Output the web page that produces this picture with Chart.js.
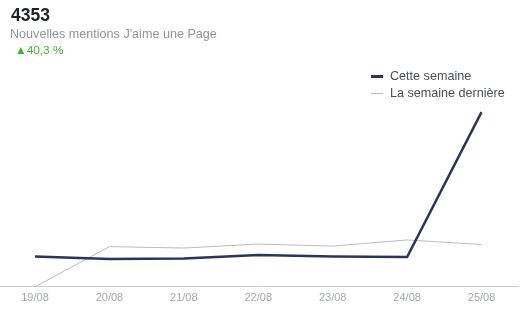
<!DOCTYPE html>
<html>
<head>
<meta charset="utf-8">
<script src="https://cdn.jsdelivr.net/npm/chart.js@4"></script>
<style>
  html, body { margin: 0; padding: 0; background: #fff; }
  body { width: 522px; height: 325px; position: relative; overflow: hidden; font-family: "Liberation Sans", Arial, sans-serif; }
  #wrap { position: absolute; left: 0; top: 0; width: 522px; height: 325px; }
  .total { position: absolute; left: 11px; top: 5px; font-size: 17.5px; font-weight: bold; color: #1d2129; }
  .subtitle { position: absolute; left: 10px; top: 27px; font-size: 12.6px; color: #90949c; }
  .change { position: absolute; left: 15px; top: 43px; font-size: 11.8px; color: #42b72a; }
  .legend { position: absolute; left: 371px; top: 68px; font-size: 12.6px; color: #4b4f56; }
  .legend div { height: 17px; line-height: 17px; white-space: nowrap; }
  .legend span { display: inline-block; width: 12px; vertical-align: middle; margin-right: 7px; }
</style>
</head>
<body>
<div id="wrap"><canvas id="likesChart" width="522" height="325"></canvas></div>
<div class="total">4353</div>
<div class="subtitle">Nouvelles mentions J'aime une Page</div>
<div class="change">&#9650;40,3 %</div>
<div class="legend">
  <div><span style="border-top: 3px solid #29355a;"></span>Cette semaine</div>
  <div><span style="border-top: 1px solid #b8bcc4;"></span>La semaine dernière</div>
</div>
<script>
const days = ['19/08', '20/08', '21/08', '22/08', '23/08', '24/08', '25/08'];
const thisWeek = [374, 342, 349, 392, 374, 367, 2155];
const lastWeek = [0, 496, 478, 527, 502, 578, 522];

const toPoints = arr => arr.map((v, i) => ({ x: i, y: v }));

new Chart(document.getElementById('likesChart'), {
    type: 'line',
    data: {
        datasets: [
            {
                label: 'Cette semaine',
                data: toPoints(thisWeek),
                borderColor: '#29355a',
                borderWidth: 2.5,
                pointRadius: 0,
                tension: 0
            },
            {
                label: 'La semaine dernière',
                data: toPoints(lastWeek),
                borderColor: '#b8bcc4',
                borderWidth: 1,
                pointRadius: 0,
                tension: 0
            }
        ]
    },
    options: {
        responsive: false,
        animation: false,
        layout: { padding: { top: 100, left: 0, right: 4, bottom: 15 } },
        plugins: { legend: { display: false }, tooltip: { enabled: false } },
        scales: {
            x: {
                type: 'linear',
                min: -0.47,
                max: 6.49,
                afterBuildTicks: axis => { axis.ticks = days.map((_, i) => ({ value: i })); },
                grid: { display: false, drawTicks: false },
                border: { display: true, color: '#cccccc', width: 1 },
                ticks: {
                    callback: value => days[value],
                    color: '#a4a8af',
                    font: { family: 'Liberation Sans', size: 11 },
                    padding: 5,
                    maxRotation: 0,
                    autoSkip: false
                }
            },
            y: {
                display: false,
                min: 0,
                max: 2304
            }
        }
    }
});
</script>
</body>
</html>
